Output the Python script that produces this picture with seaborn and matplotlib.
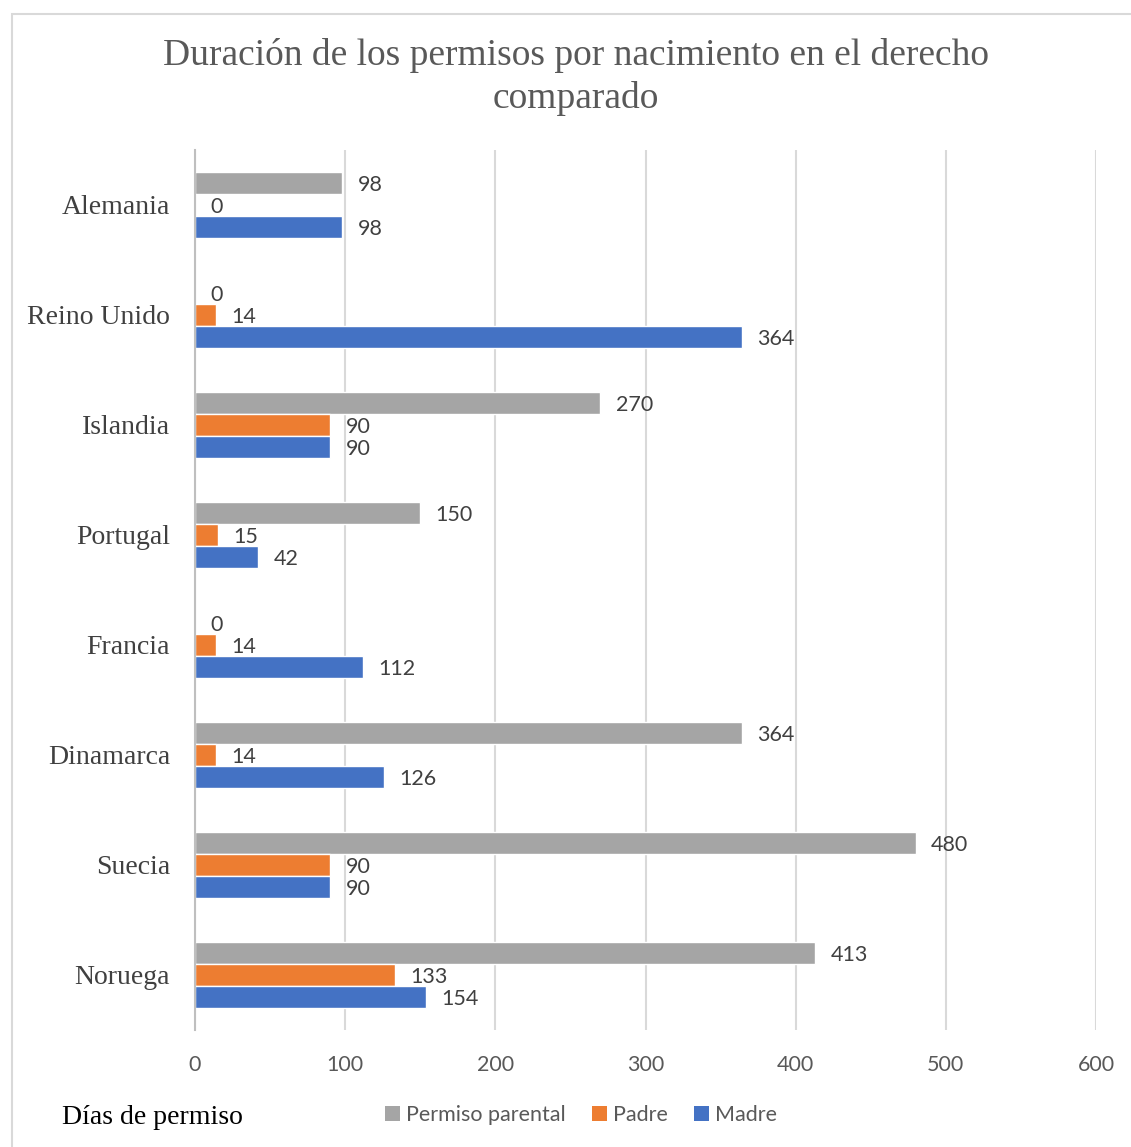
import matplotlib
matplotlib.use("Agg")
import matplotlib.pyplot as plt
import seaborn as sns
import pandas as pd
from matplotlib.patches import Rectangle, Patch

countries = ["Alemania", "Reino Unido", "Islandia", "Portugal", "Francia",
             "Dinamarca", "Suecia", "Noruega"]
series = ["Permiso parental", "Padre", "Madre"]
parental = [98, 0, 270, 150, 0, 364, 480, 413]
padre = [0, 14, 90, 15, 14, 14, 90, 133]
madre = [98, 364, 90, 42, 112, 126, 90, 154]
colors = ["#A5A5A5", "#ED7D31", "#4472C4"]
x_ticks = [0, 100, 200, 300, 400, 500, 600]
title = "Duración de los permisos por nacimiento en el derecho\ncomparado"
x_label = "Días de permiso"

rows = []
for s, vals in zip(series, [parental, padre, madre]):
    for c, v in zip(countries, vals):
        rows.append({"País": c, "Serie": s, "Días": v})
df = pd.DataFrame(rows)

sns.set_theme(style="white")
SANS = "Lato"
SERIF = "Liberation Serif"
TXT = "#595959"

fig = plt.figure(figsize=(11.31, 11.47), dpi=100)
ax = fig.add_axes([195 / 1131, 1 - 1030 / 1147, 901 / 1131, 880 / 1147])

sns.barplot(data=df, y="País", x="Días", hue="Serie", order=countries,
            hue_order=series, palette=colors, orient="h", width=0.6,
            gap=0, saturation=1, ax=ax, legend=False, errorbar=None)

for cont in ax.containers:
    texts = ax.bar_label(cont, labels=[f"{int(b.get_width())}" for b in cont],
                         padding=11, fontsize=15.5, color="#404040", family=SANS)
    for t in texts:
        x, y = t.xyann
        t.xyann = (x, y - 1.5)

ax.set_xlim(0, 600)
ax.set_xticks(x_ticks)
ax.set_xticklabels([str(t) for t in x_ticks], family=SANS, fontsize=15.5, color=TXT)
ax.set_yticklabels(countries, family=SERIF, fontsize=20, color="#404040")
ax.tick_params(axis="x", length=0, pad=18)
ax.tick_params(axis="y", length=0, pad=18)
ax.set_xlabel("")
ax.set_ylabel("")
ax.grid(axis="x", color="#D9D9D9", linewidth=1.5)
ax.set_axisbelow(True)
for side in ["top", "right", "bottom"]:
    ax.spines[side].set_visible(False)
ax.spines["left"].set_color("#BFBFBF")
ax.spines["left"].set_linewidth(1.5)

fig.text(576 / 1131, 1 - 77 / 1147, title, ha="center", va="center",
         family=SERIF, fontsize=27, color=TXT, linespacing=1.32)
fig.text(62 / 1131, 1 - 1118 / 1147, x_label, ha="left", va="center",
         family=SERIF, fontsize=20, color="black")

handles = [Patch(facecolor=c, edgecolor="none") for c in colors]
leg = fig.legend(handles, series, loc="center", bbox_to_anchor=(581 / 1131, 1 - 1115 / 1147),
                 ncol=3, frameon=False, prop={"family": SANS, "size": 15.5},
                 handlelength=0.7, handleheight=0.7, handletextpad=0.3,
                 columnspacing=1.2)
for t in leg.get_texts():
    t.set_color(TXT)

fig.patches.append(Rectangle((12 / 1131, -0.05), 1.1, 1 - 14 / 1147 + 0.05,
                             transform=fig.transFigure, fill=False,
                             edgecolor="#D9D9D9", linewidth=1.5, zorder=-1))

fig.savefig("out.png", dpi=100)
